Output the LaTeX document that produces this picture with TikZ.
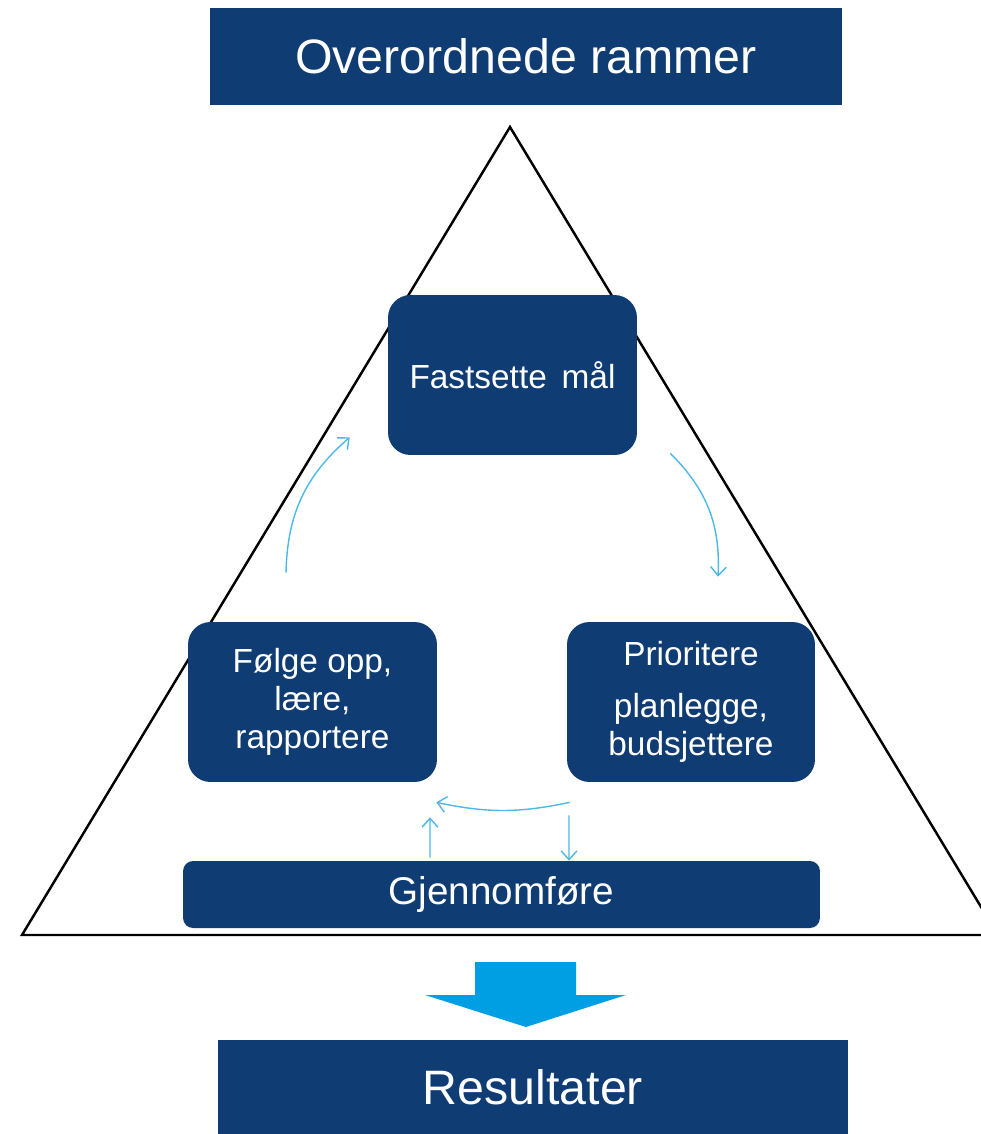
\documentclass[tikz,border=0pt]{standalone}
\usepackage{fontspec}
\setmainfont{Liberation Sans}
\usetikzlibrary{arrows.meta}
\definecolor{darkblue}{HTML}{0F3C73}
\definecolor{lightblue}{HTML}{4CB8E8}
\definecolor{arrowblue}{HTML}{009FE3}
\tikzset{
	banner/.style={fill=darkblue,text=white,minimum width=12.64cm,minimum height=1.94cm,font=\fontsize{27.5}{32}\selectfont},
	stepbox/.style={fill=darkblue,text=white,rounded corners=0.45cm,minimum width=4.98cm,minimum height=3.2cm,align=center,font=\fontsize{19}{21.6}\selectfont},
	cycle arrow/.style={draw=lightblue,line width=0.8pt,-{Straight Barb[length=5pt,width=9pt]}}
}
\begin{document}
	\begin{tikzpicture}[x=0.02cm,y=-0.02cm]
		\useasboundingbox (0,0) rectangle (981,1134);
		% triangle behind everything
		\draw[line width=1.4pt] (510,127) -- (22,935) -- (998,935) -- cycle;
		\node[banner] (rammer) at (526,56.5) {Overordnede rammer};
		\node[stepbox] (fastsette) at (512.5,375) {Fastsette\, mål};
		\node[stepbox] (folge) at (312.5,702) {Følge opp,\\ lære,\\ rapportere};
		\node[stepbox,minimum width=4.96cm] (prioritere) at (691,702) {Prioritere\\[8pt] planlegge,\\ budsjettere};
		\node[stepbox,rounded corners=0.2cm,minimum width=12.74cm,minimum height=1.34cm,font=\fontsize{22}{26}\selectfont] (gjennom) at (501.5,894.5) {Gjennomføre};
		\node[banner,minimum width=12.6cm,minimum height=1.88cm] (resultater) at (533,1087) {Resultater};
		% cycle
		\draw[cycle arrow] ([xshift=-0.53cm,yshift=0.98cm]folge.north) to[bend left=24] ([xshift=-0.76cm,yshift=0.36cm]fastsette.south west);
		\draw[cycle arrow] ([xshift=0.66cm,yshift=0.04cm]fastsette.south east) to[bend left=24] ([xshift=0.54cm,yshift=0.9cm]prioritere.north);
		\draw[cycle arrow] ([xshift=0.06cm,yshift=-0.4cm]prioritere.south west) to[bend left=12] ([xshift=-0.02cm,yshift=-0.4cm]folge.south east);
		\draw[cycle arrow] ([xshift=-1.43cm,yshift=0.06cm]gjennom.north) -- ([xshift=2.35cm,yshift=-0.7cm]folge.south);
		\draw[cycle arrow] ([xshift=-2.44cm,yshift=-0.66cm]prioritere.south) -- ([xshift=1.35cm]gjennom.north);
		% big arrow
		\fill[arrowblue] (475,962) -- (576,962) -- (576,995) -- (626,995) -- (526,1027) -- (425,995) -- (475,995) -- cycle;
	\end{tikzpicture}
\end{document}
